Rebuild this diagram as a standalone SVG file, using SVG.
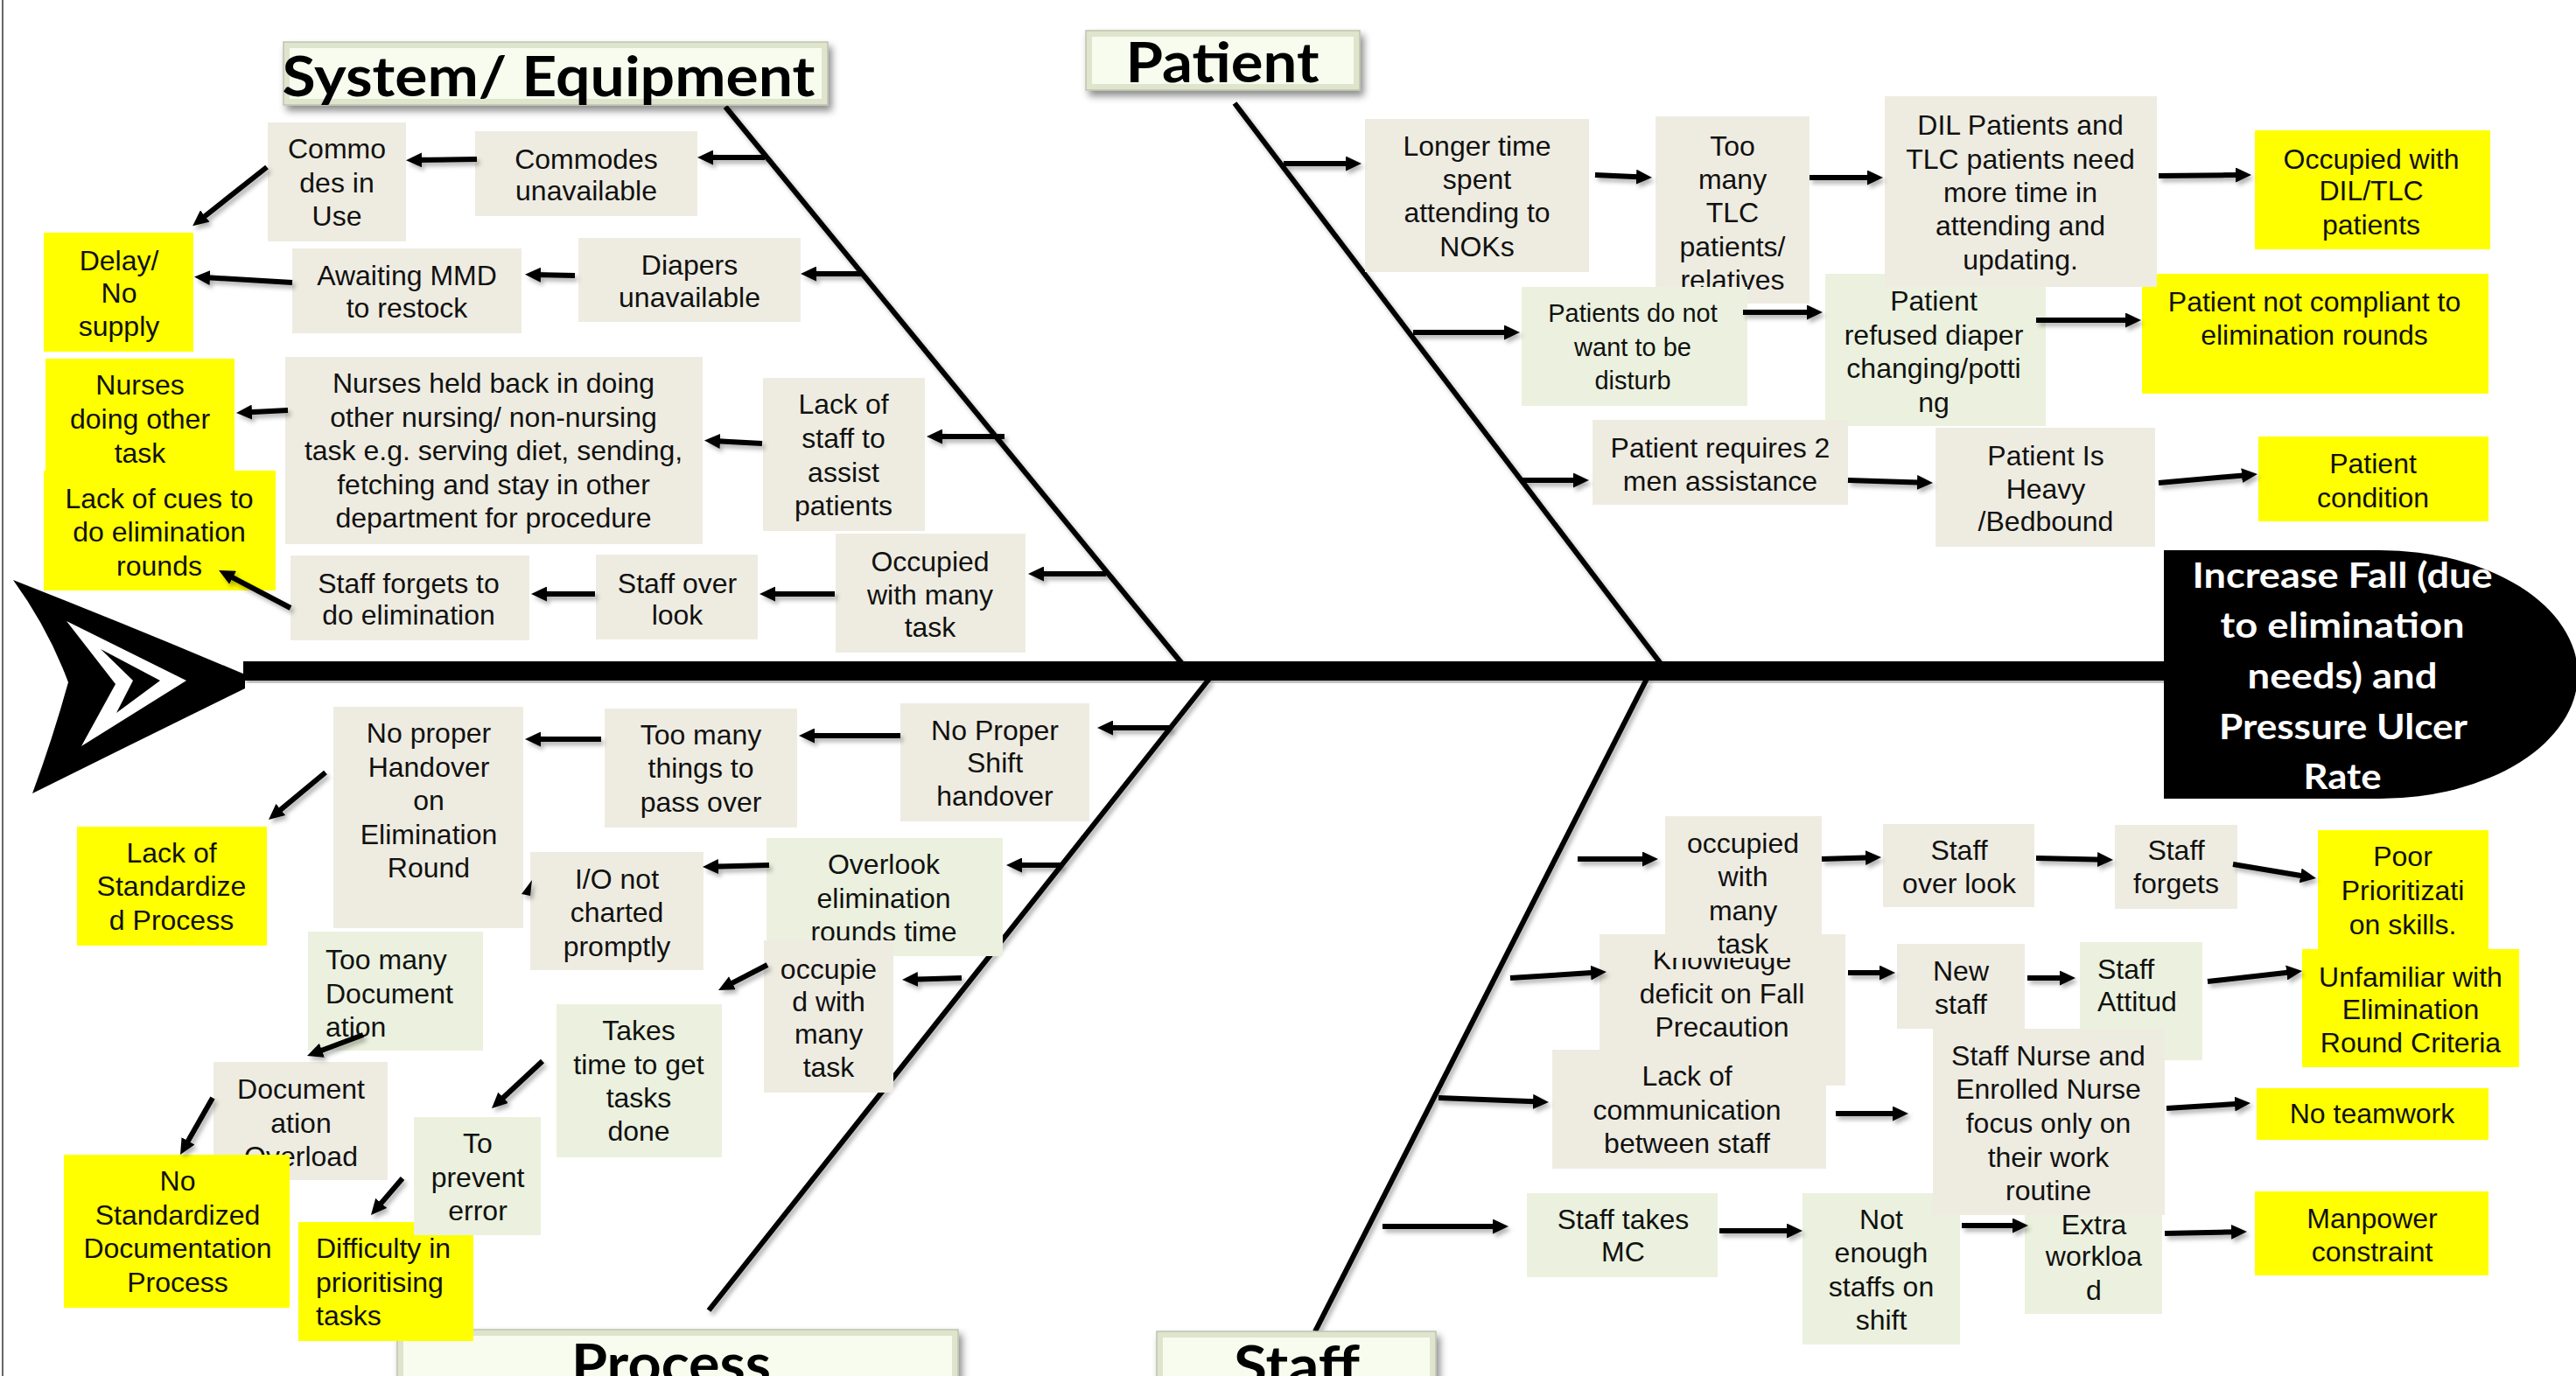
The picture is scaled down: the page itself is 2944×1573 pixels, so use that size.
<svg xmlns="http://www.w3.org/2000/svg" width="2944" height="1573" viewBox="0 0 2944 1573">
<defs>
<style>
.b{fill:#EEECE1}.g{fill:#EBF1DE}.y{fill:#FFFF00}
.t{font-family:'Liberation Sans',Arial,sans-serif;font-size:32px;fill:#111;text-anchor:middle}
.s{font-size:29px}
.l{text-anchor:start}
.ttl{font-family:Lato,'Open Sans',sans-serif;font-weight:700;font-size:64px;fill:#000;text-anchor:middle}
.hd{font-family:Lato,'Open Sans',sans-serif;font-weight:700;font-size:41px;fill:#fff;text-anchor:middle}
.bone{stroke:#000;stroke-width:6;fill:none}
.arr{stroke:#000;stroke-width:6;fill:none;marker-end:url(#ah)}
.bo{fill:#dfe4cd;stroke:#bfc3ae;stroke-width:1.5}
.bi{fill:#f7fcee}
</style>
<marker id="ah" viewBox="0 0 18 17" refX="8" refY="8.5" markerWidth="18" markerHeight="17" markerUnits="userSpaceOnUse" orient="auto">
<path d="M0,0 L18,8.5 L0,17 Z" fill="#000"/>
</marker>
<filter id="sh" x="-10%" y="-10%" width="120%" height="120%">
<feDropShadow dx="3" dy="4" stdDeviation="2.5" flood-color="#000" flood-opacity="0.3"/>
</filter>
<filter id="sh2" x="-10%" y="-20%" width="125%" height="150%">
<feDropShadow dx="4" dy="6" stdDeviation="4" flood-color="#000" flood-opacity="0.45"/>
</filter>
</defs>
<rect x="0" y="0" width="2944" height="1573" fill="#fff"/>
<line x1="3" y1="0" x2="3" y2="1573" stroke="#666" stroke-width="2"/>

<!-- fish skeleton -->
<g id="skeleton">
<path id="tail" d="M15,663 Q150,716 280,771 L280,787 Q160,846 37,907 Q60,845 78,780 Q55,718 15,663 Z" fill="#000"/>
<path d="M76,710 L213,778 L93,853 L132,782 Z" fill="#fff"/>
<path d="M115,742 L183,778 L133,815 L152,778 Z" fill="#000"/>
<rect x="278" y="756" width="2200" height="22" fill="#000" filter="url(#sh)"/>
<g filter="url(#sh)">
<line class="bone" x1="829" y1="122" x2="1352" y2="760"/>
<line class="bone" x1="1411" y1="118" x2="1899" y2="760"/>
<line class="bone" x1="1382" y1="776" x2="810" y2="1498"/>
<line class="bone" x1="1882" y1="776" x2="1503" y2="1522"/>
</g>
</g>

<!-- effect head -->
<g id="head">
<path d="M2473,629 H2720 A226,142 0 0 1 2720,913 H2473 Z" fill="#000"/>
<text class="hd"><tspan x="2677" y="672" textLength="343" lengthAdjust="spacingAndGlyphs">Increase Fall (due</tspan></text>
<text class="hd"><tspan x="2677" y="729" textLength="279" lengthAdjust="spacingAndGlyphs">to elimination</tspan></text>
<text class="hd"><tspan x="2677" y="787" textLength="217" lengthAdjust="spacingAndGlyphs">needs) and</tspan></text>
<text class="hd"><tspan x="2678" y="845" textLength="284" lengthAdjust="spacingAndGlyphs">Pressure Ulcer</tspan></text>
<text class="hd"><tspan x="2677" y="902" textLength="89" lengthAdjust="spacingAndGlyphs">Rate</tspan></text>
</g>

<!-- category titles -->
<g id="title-system" filter="url(#sh2)">
<rect class="bo" x="324" y="48" width="622" height="72"/>
<rect class="bi" x="331" y="55" width="608" height="58"/>
<text class="ttl" x="627" y="110" textLength="609" lengthAdjust="spacingAndGlyphs">System/ Equipment</text>
</g>
<g id="title-patient" filter="url(#sh2)">
<rect class="bo" x="1241" y="35" width="313" height="68"/>
<rect class="bi" x="1248" y="42" width="299" height="54"/>
<text class="ttl" x="1397" y="94" textLength="221" lengthAdjust="spacingAndGlyphs">Patient</text>
</g>
<g id="title-process" filter="url(#sh2)">
<rect class="bo" x="454" y="1520" width="641" height="80"/>
<rect class="bi" x="461" y="1527" width="627" height="70"/>
<text class="ttl" x="767" y="1582" textLength="228" lengthAdjust="spacingAndGlyphs">Process</text>
</g>
<g id="title-staff" filter="url(#sh2)">
<rect class="bo" x="1322" y="1522" width="319" height="80"/>
<rect class="bi" x="1329" y="1529" width="305" height="70"/>
<text class="ttl" x="1482" y="1584" textLength="144" lengthAdjust="spacingAndGlyphs">Staff</text>
</g>

<!-- System / Equipment nodes -->
<g id="n-commo-in-use"><rect class="b" x="306" y="140" width="158" height="136"/>
<text class="t"><tspan x="385" y="181">Commo</tspan><tspan x="385" y="219.5">des in</tspan><tspan x="385" y="258">Use</tspan></text></g>
<g id="n-commodes-unavail"><rect class="b" x="543" y="150" width="254" height="97"/>
<text class="t"><tspan x="670" y="193">Commodes</tspan><tspan x="670" y="229">unavailable</tspan></text></g>
<g id="n-delay"><rect class="y" x="50" y="266" width="171" height="136"/>
<text class="t"><tspan x="136" y="309">Delay/</tspan><tspan x="136" y="346">No</tspan><tspan x="136" y="384">supply</tspan></text></g>
<g id="n-awaiting"><rect class="b" x="334" y="284" width="262" height="97"/>
<text class="t"><tspan x="465" y="326">Awaiting MMD</tspan><tspan x="465" y="363">to restock</tspan></text></g>
<g id="n-diapers"><rect class="b" x="661" y="272" width="254" height="96"/>
<text class="t"><tspan x="788" y="314">Diapers</tspan><tspan x="788" y="351">unavailable</tspan></text></g>
<g id="n-nurses-other"><rect class="y" x="52" y="410" width="216" height="128"/>
<text class="t"><tspan x="160" y="451">Nurses</tspan><tspan x="160" y="490">doing other</tspan><tspan x="160" y="529">task</tspan></text></g>
<g id="n-lack-cues"><rect class="y" x="50" y="538" width="265" height="137"/>
<text class="t"><tspan x="182" y="581">Lack of cues to</tspan><tspan x="182" y="619">do elimination</tspan><tspan x="182" y="658">rounds</tspan></text></g>
<g id="n-nurses-held"><rect class="b" x="326" y="408" width="477" height="214"/>
<text class="t"><tspan x="564" y="449">Nurses held back in doing</tspan><tspan x="564" y="487.5">other nursing/ non-nursing</tspan><tspan x="564" y="526">task e.g. serving diet, sending,</tspan><tspan x="564" y="564.5">fetching and stay in other</tspan><tspan x="564" y="603">department for procedure</tspan></text></g>
<g id="n-lack-staff"><rect class="b" x="872" y="432" width="185" height="175"/>
<text class="t"><tspan x="964" y="473">Lack of</tspan><tspan x="964" y="512">staff to</tspan><tspan x="964" y="551">assist</tspan><tspan x="964" y="589">patients</tspan></text></g>
<g id="n-staff-forgets-elim"><rect class="b" x="332" y="635" width="273" height="97"/>
<text class="t"><tspan x="467" y="678">Staff forgets to</tspan><tspan x="467" y="714">do elimination</tspan></text></g>
<g id="n-staff-overlook-1"><rect class="b" x="681" y="634" width="185" height="97"/>
<text class="t"><tspan x="774" y="678">Staff over</tspan><tspan x="774" y="714">look</tspan></text></g>
<g id="n-occupied-1"><rect class="b" x="955" y="610" width="217" height="136"/>
<text class="t"><tspan x="1063" y="653">Occupied</tspan><tspan x="1063" y="691">with many</tspan><tspan x="1063" y="728">task</tspan></text></g>

<!-- Patient nodes -->
<g id="n-longer-time"><rect class="b" x="1560" y="136" width="256" height="175"/>
<text class="t"><tspan x="1688" y="178">Longer time</tspan><tspan x="1688" y="216">spent</tspan><tspan x="1688" y="254">attending to</tspan><tspan x="1688" y="293">NOKs</tspan></text></g>
<g id="n-too-many-tlc"><rect class="b" x="1892" y="133" width="176" height="214"/>
<text class="t"><tspan x="1980" y="178">Too</tspan><tspan x="1980" y="216">many</tspan><tspan x="1980" y="254">TLC</tspan><tspan x="1980" y="293">patients/</tspan><tspan x="1980" y="331">relatives</tspan></text></g>
<g id="n-not-want"><rect class="g" x="1739" y="328" width="258" height="136"/>
<text class="t s"><tspan x="1866" y="368">Patients do not</tspan><tspan x="1866" y="407">want to be</tspan><tspan x="1866" y="445">disturb</tspan></text></g>
<g id="n-refused"><rect class="g" x="2086" y="313" width="252" height="174"/>
<text class="t"><tspan x="2210" y="355">Patient</tspan><tspan x="2210" y="393.5">refused diaper</tspan><tspan x="2210" y="432">changing/potti</tspan><tspan x="2210" y="470.5">ng</tspan></text></g>
<g id="n-not-compliant"><rect class="y" x="2448" y="313" width="396" height="137"/>
<text class="t"><tspan x="2645" y="356">Patient not compliant to</tspan><tspan x="2645" y="394">elimination rounds</tspan></text></g>
<g id="n-dil"><rect class="b" x="2154" y="110" width="311" height="218"/>
<text class="t"><tspan x="2309" y="154">DIL Patients and</tspan><tspan x="2309" y="193">TLC patients need</tspan><tspan x="2309" y="231">more time in</tspan><tspan x="2309" y="269">attending and</tspan><tspan x="2309" y="308">updating.</tspan></text></g>
<g id="n-occ-dil"><rect class="y" x="2577" y="149" width="269" height="136"/>
<text class="t"><tspan x="2710" y="193">Occupied with</tspan><tspan x="2710" y="229">DIL/TLC</tspan><tspan x="2710" y="268">patients</tspan></text></g>
<g id="n-requires2"><rect class="b" x="1820" y="480" width="292" height="97"/>
<text class="t"><tspan x="1966" y="523">Patient requires 2</tspan><tspan x="1966" y="561">men assistance</tspan></text></g>
<g id="n-heavy"><rect class="b" x="2212" y="489" width="251" height="136"/>
<text class="t"><tspan x="2338" y="532">Patient Is</tspan><tspan x="2338" y="570">Heavy</tspan><tspan x="2338" y="607">/Bedbound</tspan></text></g>
<g id="n-condition"><rect class="y" x="2581" y="499" width="263" height="97"/>
<text class="t"><tspan x="2712" y="541">Patient</tspan><tspan x="2712" y="580">condition</tspan></text></g>

<!-- Process nodes -->
<g id="n-no-shift"><rect class="b" x="1029" y="804" width="216" height="135"/>
<text class="t"><tspan x="1137" y="846">No Proper</tspan><tspan x="1137" y="883">Shift</tspan><tspan x="1137" y="921">handover</tspan></text></g>
<g id="n-too-many-things"><rect class="b" x="691" y="810" width="220" height="136"/>
<text class="t"><tspan x="801" y="851">Too many</tspan><tspan x="801" y="889">things to</tspan><tspan x="801" y="928">pass over</tspan></text></g>
<g id="n-no-handover"><rect class="b" x="381" y="808" width="217" height="253"/>
<text class="t"><tspan x="490" y="849">No proper</tspan><tspan x="490" y="887.5">Handover</tspan><tspan x="490" y="926">on</tspan><tspan x="490" y="964.5">Elimination</tspan><tspan x="490" y="1003">Round</tspan></text></g>
<g id="n-lack-std"><rect class="y" x="88" y="945" width="217" height="136"/>
<text class="t"><tspan x="196" y="986">Lack of</tspan><tspan x="196" y="1024">Standardize</tspan><tspan x="196" y="1063">d Process</tspan></text></g>
<g id="n-overlook-rounds"><rect class="g" x="876" y="958" width="270" height="135"/>
<text class="t"><tspan x="1010" y="999">Overlook</tspan><tspan x="1010" y="1038">elimination</tspan><tspan x="1010" y="1076">rounds time</tspan></text></g>
<g id="n-io"><rect class="b" x="606" y="974" width="198" height="135"/>
<text class="t"><tspan x="705" y="1016">I/O not</tspan><tspan x="705" y="1054">charted</tspan><tspan x="705" y="1093">promptly</tspan></text></g>
<g id="n-too-many-doc"><rect class="g" x="352" y="1065" width="200" height="136"/>
<text class="t l"><tspan x="372" y="1108">Too many</tspan><tspan x="372" y="1146.5">Document</tspan><tspan x="372" y="1185">ation</tspan></text></g>
<g id="n-occupie-d"><rect class="b" x="873" y="1075" width="148" height="174"/>
<text class="t"><tspan x="947" y="1119">occupie</tspan><tspan x="947" y="1156">d with</tspan><tspan x="947" y="1193">many</tspan><tspan x="947" y="1231">task</tspan></text></g>
<g id="n-takes-time"><rect class="g" x="636" y="1148" width="189" height="175"/>
<text class="t"><tspan x="730" y="1189">Takes</tspan><tspan x="730" y="1228">time to get</tspan><tspan x="730" y="1266">tasks</tspan><tspan x="730" y="1304">done</tspan></text></g>
<g id="n-difficulty"><rect class="y" x="341" y="1397" width="200" height="136"/>
<text class="t l"><tspan x="361" y="1438">Difficulty in</tspan><tspan x="361" y="1476.5">prioritising</tspan><tspan x="361" y="1515">tasks</tspan></text></g>
<g id="n-prevent"><rect class="g" x="473" y="1277" width="145" height="135"/>
<text class="t"><tspan x="546" y="1318">To</tspan><tspan x="546" y="1356.5">prevent</tspan><tspan x="546" y="1395">error</tspan></text></g>
<g id="n-doc-overload"><rect class="b" x="244" y="1214" width="199" height="135"/>
<text class="t"><tspan x="344" y="1256">Document</tspan><tspan x="344" y="1294.5">ation</tspan><tspan x="344" y="1333">Overload</tspan></text></g>
<g id="n-no-std-doc"><rect class="y" x="73" y="1320" width="258" height="175"/>
<text class="t"><tspan x="203" y="1361">No</tspan><tspan x="203" y="1399.5">Standardized</tspan><tspan x="203" y="1438">Documentation</tspan><tspan x="203" y="1476.5">Process</tspan></text></g>

<!-- Staff nodes -->
<g id="n-knowledge"><rect class="b" x="1828" y="1068" width="281" height="173"/>
<text class="t"><tspan x="1968" y="1108">Knowledge</tspan><tspan x="1968" y="1147">deficit on Fall</tspan><tspan x="1968" y="1185">Precaution</tspan></text></g>
<g id="n-occupied-2"><rect class="b" x="1903" y="933" width="179" height="162"/>
<text class="t"><tspan x="1992" y="975">occupied</tspan><tspan x="1992" y="1013">with</tspan><tspan x="1992" y="1052">many</tspan><tspan x="1992" y="1090">task</tspan></text></g>
<g id="n-staff-overlook-2"><rect class="b" x="2152" y="942" width="173" height="95"/>
<text class="t"><tspan x="2239" y="983">Staff</tspan><tspan x="2239" y="1021">over look</tspan></text></g>
<g id="n-staff-forgets"><rect class="b" x="2417" y="943" width="140" height="96"/>
<text class="t"><tspan x="2487" y="983">Staff</tspan><tspan x="2487" y="1021">forgets</tspan></text></g>
<g id="n-poor-prior"><rect class="y" x="2649" y="949" width="195" height="136"/>
<text class="t"><tspan x="2746" y="990">Poor</tspan><tspan x="2746" y="1029">Prioritizati</tspan><tspan x="2746" y="1068">on skills.</tspan></text></g>
<g id="n-new-staff"><rect class="b" x="2168" y="1079" width="146" height="97"/>
<text class="t"><tspan x="2241" y="1121">New</tspan><tspan x="2241" y="1159">staff</tspan></text></g>
<g id="n-attitude"><rect class="g" x="2377" y="1077" width="140" height="135"/>
<text class="t l"><tspan x="2397" y="1119">Staff</tspan><tspan x="2397" y="1156">Attitud</tspan></text></g>
<g id="n-unfamiliar"><rect class="y" x="2631" y="1085" width="248" height="135"/>
<text class="t"><tspan x="2755" y="1128">Unfamiliar with</tspan><tspan x="2755" y="1165">Elimination</tspan><tspan x="2755" y="1203">Round Criteria</tspan></text></g>
<g id="n-lack-comm"><rect class="b" x="1774" y="1200" width="313" height="136"/>
<text class="t"><tspan x="1928" y="1241">Lack of</tspan><tspan x="1928" y="1280">communication</tspan><tspan x="1928" y="1318">between staff</tspan></text></g>
<g id="n-extra"><rect class="g" x="2314" y="1362" width="157" height="140"/>
<text class="t"><tspan x="2393" y="1411">Extra</tspan><tspan x="2393" y="1447">workloa</tspan><tspan x="2393" y="1486">d</tspan></text></g>
<g id="n-not-enough"><rect class="g" x="2060" y="1364" width="180" height="173"/>
<text class="t"><tspan x="2150" y="1405">Not</tspan><tspan x="2150" y="1443">enough</tspan><tspan x="2150" y="1482">staffs on</tspan><tspan x="2150" y="1520">shift</tspan></text></g>
<g id="n-staff-nurse"><rect class="b" x="2209" y="1176" width="265" height="213"/>
<text class="t"><tspan x="2341" y="1218">Staff Nurse and</tspan><tspan x="2341" y="1256">Enrolled Nurse</tspan><tspan x="2341" y="1295">focus only on</tspan><tspan x="2341" y="1334">their work</tspan><tspan x="2341" y="1372">routine</tspan></text></g>
<g id="n-teamwork"><rect class="y" x="2579" y="1244" width="265" height="59"/>
<text class="t"><tspan x="2711" y="1284">No teamwork</tspan></text></g>
<g id="n-mc"><rect class="g" x="1745" y="1364" width="218" height="96"/>
<text class="t"><tspan x="1855" y="1405">Staff takes</tspan><tspan x="1855" y="1442">MC</tspan></text></g>
<g id="n-manpower"><rect class="y" x="2577" y="1362" width="267" height="96"/>
<text class="t"><tspan x="2711" y="1404">Manpower</tspan><tspan x="2711" y="1442">constraint</tspan></text></g>

<!-- connectors -->
<g id="connectors" filter="url(#sh)">
<line class="arr" x1="874" y1="180" x2="807" y2="180"/>
<line class="arr" x1="545" y1="182" x2="474" y2="183"/>
<line class="arr" x1="305" y1="191" x2="228" y2="252"/>
<line class="arr" x1="986" y1="313" x2="925" y2="313"/>
<line class="arr" x1="657" y1="315" x2="610" y2="314"/>
<line class="arr" x1="334" y1="323" x2="232" y2="317"/>
<line class="arr" x1="1148" y1="499" x2="1069" y2="499"/>
<line class="arr" x1="871" y1="507" x2="815" y2="504"/>
<line class="arr" x1="329" y1="469" x2="280" y2="471.5"/>
<line class="arr" x1="1264" y1="656" x2="1185" y2="656"/>
<line class="arr" x1="954" y1="679" x2="878" y2="679"/>
<line class="arr" x1="680" y1="679" x2="617" y2="679"/>
<line class="arr" x1="332" y1="695" x2="259" y2="656.6"/>

<line class="arr" x1="1467" y1="187" x2="1546" y2="187"/>
<line class="arr" x1="1823" y1="200" x2="1878" y2="202.5"/>
<line class="arr" x1="2068" y1="203" x2="2142" y2="203"/>
<line class="arr" x1="2467" y1="201" x2="2563" y2="200"/>
<line class="arr" x1="1615" y1="380" x2="1727" y2="380"/>
<line class="arr" x1="1992" y1="357" x2="2073" y2="357"/>
<line class="arr" x1="2327" y1="366" x2="2437" y2="366"/>
<line class="arr" x1="1740" y1="549" x2="1806" y2="549"/>
<line class="arr" x1="2112" y1="549" x2="2199" y2="551.7"/>
<line class="arr" x1="2467" y1="552" x2="2570" y2="542.9"/>

<line class="arr" x1="1339" y1="832" x2="1264" y2="832"/>
<line class="arr" x1="1029" y1="841" x2="923" y2="841"/>
<line class="arr" x1="687" y1="845" x2="610" y2="845"/>
<line class="arr" x1="372" y1="883" x2="314.7" y2="930.6"/>
<line class="arr" x1="1214" y1="989" x2="1160" y2="989"/>
<line class="arr" x1="879" y1="989" x2="813" y2="990.7"/>
<path d="M608,1006 L606,1024 L596,1022 Z" fill="#000"/>
<line class="arr" x1="1099" y1="1118" x2="1041" y2="1119.7"/>
<line class="arr" x1="877" y1="1103" x2="829.9" y2="1127.4"/>
<line class="arr" x1="620" y1="1213" x2="569.3" y2="1260.2"/>
<line class="arr" x1="460" y1="1347" x2="430.5" y2="1381.4"/>
<line class="arr" x1="415" y1="1183" x2="360.4" y2="1203.5"/>
<line class="arr" x1="243" y1="1255" x2="211" y2="1311.3"/>

<line class="arr" x1="1803" y1="982" x2="1885" y2="982"/>
<line class="arr" x1="2082" y1="982" x2="2140" y2="980.3"/>
<line class="arr" x1="2327" y1="981" x2="2405" y2="982.8"/>
<line class="arr" x1="2552" y1="988" x2="2637.1" y2="1002.3"/>
<line class="arr" x1="1726" y1="1118" x2="1826" y2="1111.6"/>
<line class="arr" x1="2112" y1="1112" x2="2156" y2="1112"/>
<line class="arr" x1="2317" y1="1118" x2="2362" y2="1118"/>
<line class="arr" x1="2523" y1="1122" x2="2621.1" y2="1111.1"/>
<line class="arr" x1="1644" y1="1255" x2="1760" y2="1259.6"/>
<line class="arr" x1="2098" y1="1273" x2="2171" y2="1273"/>
<line class="arr" x1="2476" y1="1267" x2="2562" y2="1261.6"/>
<line class="arr" x1="1580" y1="1402" x2="1714" y2="1402"/>
<line class="arr" x1="1965" y1="1407" x2="2050" y2="1407"/>
<line class="arr" x1="2242" y1="1401" x2="2308" y2="1401"/>
<line class="arr" x1="2474" y1="1410" x2="2558" y2="1408.2"/>
</g>
</svg>
